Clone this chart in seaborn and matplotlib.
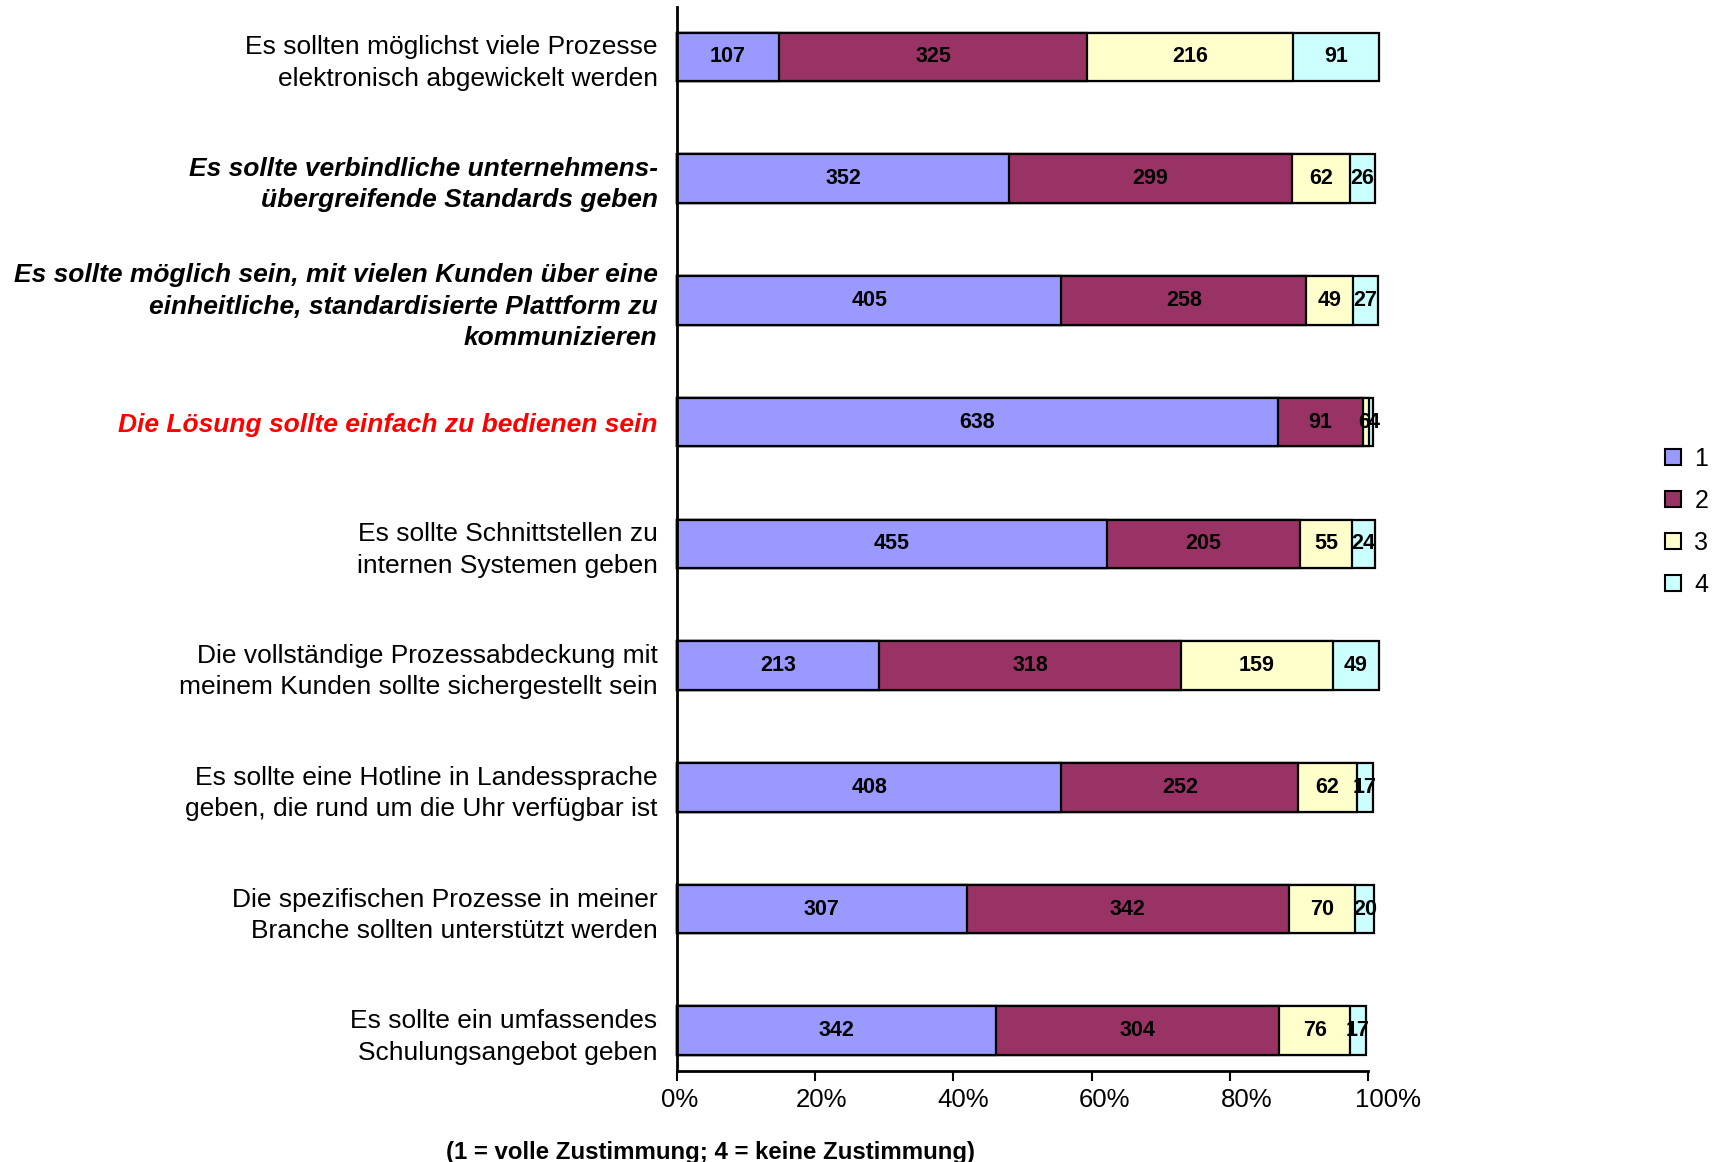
import matplotlib
matplotlib.use("Agg")
import numpy as np
import pandas as pd
import seaborn as sns
import matplotlib.pyplot as plt
import matplotlib.transforms as mtransforms
from matplotlib.patches import Patch

# statements (top to bottom) and the counts per answer 1..4
statements = [
    "Es sollten möglichst viele Prozesse\nelektronisch abgewickelt werden",
    "Es sollte verbindliche unternehmens-\nübergreifende Standards geben",
    "Es sollte möglich sein, mit vielen Kunden über eine\neinheitliche, standardisierte Plattform zu\nkommunizieren",
    "Die Lösung sollte einfach zu bedienen sein",
    "Es sollte Schnittstellen zu\ninternen Systemen geben",
    "Die vollständige Prozessabdeckung mit\nmeinem Kunden sollte sichergestellt sein",
    "Es sollte eine Hotline in Landessprache\ngeben, die rund um die Uhr verfügbar ist",
    "Die spezifischen Prozesse in meiner\nBranche sollten unterstützt werden",
    "Es sollte ein umfassendes\nSchulungsangebot geben",
]
n1 = [107, 352, 405, 638, 455, 213, 408, 307, 342]
n2 = [325, 299, 258, 91, 205, 318, 252, 342, 304]
n3 = [216, 62, 49, 6, 55, 159, 62, 70, 76]
n4 = [91, 26, 27, 4, 24, 49, 17, 20, 17]
# where each bar ends on the percent axis
bar_total_pct = [101.6, 101.0, 101.5, 100.7, 101.0, 101.6, 100.7, 100.9, 99.7]
answers = ["1", "2", "3", "4"]
tick_pcts = [0, 20, 40, 60, 80, 100]
footnote = "(1 = volle Zustimmung; 4 = keine Zustimmung)"

colors = ["#9999FF", "#993366", "#FFFFCC", "#CCFFFF"]

sns.set_style("white")
plt.rcParams["font.family"] = ["Liberation Sans", "DejaVu Sans"]
plt.rcParams["text.color"] = "black"
plt.rcParams["xtick.color"] = "black"
plt.rcParams["ytick.color"] = "black"

counts = pd.DataFrame({"1": n1, "2": n2, "3": n3, "4": n4}, index=statements)
pct = counts.div(counts.sum(axis=1), axis=0).mul(bar_total_pct, axis=0)
cum = pct.cumsum(axis=1)
starts = cum - pct

fig = plt.figure(figsize=(17.21, 11.62), dpi=100)
ax = fig.add_axes([677 / 1721, 1 - 1071 / 1162, 691 / 1721, (1071 - 7) / 1162])

# stacked bars: draw cumulative totals from longest to shortest
for col, c in reversed(list(zip(answers, colors))):
    sns.barplot(x=cum[col].values, y=statements, orient="h", color=c,
                saturation=1, edgecolor="black", linewidth=1.6, width=0.4,
                errorbar=None, ax=ax)
for p in ax.patches:
    p.set_clip_on(False)

# count labels in the middle of each segment (tiny segments pushed apart)
for i in range(len(statements)):
    for j, col in enumerate(answers):
        w = pct.iloc[i][col]
        x, ha = starts.iloc[i][col] + w / 2, "center"
        if w < 1.5 and j == 2:
            x, ha = cum.iloc[i][col] + 0.2, "right"
        elif w < 1.5 and j == 3:
            x, ha = starts.iloc[i][col] - 0.2, "left"
        ax.text(x, i, str(counts.iloc[i][col]), ha=ha, va="center",
                fontsize=15.5, fontweight="bold", color="black")

ax.set_xlim(0, 100)
ax.set_ylim(len(statements) - 1 + 0.33, -0.41)
ax.set_xticks(tick_pcts)
ax.set_xticklabels([f"{t}%" for t in tick_pcts])
ax.set_yticks(range(len(statements)))
ax.set_yticklabels(statements)
ax.set_xlabel("")
ax.set_ylabel("")
ax.tick_params(axis="x", direction="out", length=7, width=1.5, labelsize=18.5,
               pad=5, bottom=True)
ax.tick_params(axis="y", length=0, labelsize=19, pad=14)

# the percent labels drift slightly right of their ticks in the original
for k, lab in enumerate(ax.get_xticklabels()):
    shift = mtransforms.ScaledTranslation((3 + 3.4 * k) / 100, 0, fig.dpi_scale_trans)
    lab.set_transform(lab.get_transform() + shift)

for k, lab in enumerate(ax.get_yticklabels()):
    lab.set_linespacing(1.38)
    if k in (1, 2):
        lab.set_fontweight("bold")
        lab.set_fontstyle("italic")
    if k == 3:
        lab.set_fontweight("bold")
        lab.set_fontstyle("italic")
        lab.set_color("red")

sns.despine(ax=ax, top=True, right=True)
for side in ("left", "bottom"):
    ax.spines[side].set_color("black")
    ax.spines[side].set_linewidth(2)

handles = [Patch(facecolor=c, edgecolor="black", linewidth=1.5) for c in colors]
fig.legend(handles, answers, loc="center left",
           bbox_to_anchor=(1665 / 1721, 1 - 522 / 1162), frameon=False,
           fontsize=18, handlelength=0.62, handleheight=0.62,
           handletextpad=0.55, labelspacing=0.72, borderpad=0, borderaxespad=0)

fig.text(710 / 1721, 1 - 1152 / 1162, footnote, ha="center", va="center",
         fontsize=17.3, fontweight="bold")

fig.savefig("out.png", dpi=100)
